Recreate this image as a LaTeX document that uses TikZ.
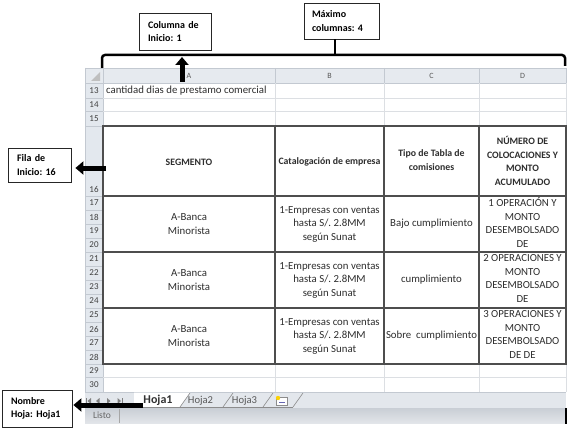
\documentclass[tikz,border=0pt]{standalone}
\usepackage{fontspec}
\setmainfont{Carlito}
\usetikzlibrary{arrows.meta}
\frenchspacing
\definecolor{hdrfill}{HTML}{E6EAEF}
\definecolor{rowfill}{HTML}{E3E8EE}
\definecolor{hdrline}{HTML}{C3C9D1}
\definecolor{gridc}{HTML}{DCDFE3}
\definecolor{tbl}{HTML}{4E4E4E}
\definecolor{txt}{HTML}{2E2E2E}
\definecolor{tabbar}{HTML}{E3E7EC}
\definecolor{stattop}{HTML}{C9CED5}
\definecolor{statbot}{HTML}{E2E5E9}
\tikzset{
  annot/.style={draw=black!85, line width=0.8pt, fill=white, align=left,
    font=\bfseries\fontsize{10}{13.5}\selectfont, inner ysep=0pt},
  bigarrow/.style={line width=5pt, black, -{Triangle[width=13pt,length=8pt]}},
  bracket/.style={line width=2.5pt, black, rounded corners=3pt},
  cell/.style={inner sep=0pt, align=center, text=txt, font=\fontsize{10.8}{13.5}\selectfont},
  hcell/.style={inner sep=0pt, align=center, text=txt, font=\bfseries\fontsize{9.8}{13.5}\selectfont},
  colletter/.style={inner sep=0pt, text=black!65, font=\fontsize{8}{9}\selectfont},
  rownum/.style={inner sep=0pt, text=black!75, font=\fontsize{9}{10}\selectfont},
  thickline/.style={draw=tbl, line width=1.4pt},
  thingrid/.style={draw=gridc, line width=0.7pt},
  hdrgrid/.style={draw=hdrline, line width=0.6pt},
  tabtext/.style={inner sep=0pt, text=black!65, font=\fontsize{10.6}{12}\selectfont},
  navbtn/.style={fill=black!50},
}
\begin{document}
\begin{tikzpicture}[x=1pt,y=-1pt]
\useasboundingbox (0,0) rectangle (573,428);
\fill[white] (0,0) rectangle (573,428);

% ---------- spreadsheet background ----------
\fill[hdrfill] (85,68) rectangle (566,83);
\fill[rowfill] (85,83) rectangle (103,392);
\fill[white] (103,83) rectangle (566,392);

% header grid
\foreach \xx in {85,103,275,384,479,566} \draw[hdrgrid] (\xx,68) -- (\xx,83);
\draw[hdrgrid] (85,68) -- (566,68);
\draw[hdrgrid] (85,83) -- (566,83);
% corner triangle
\fill[black!25] (91,81) -- (100,81) -- (100,72) -- cycle;

% row header separators
\foreach \yy in {98,111,126,196,210,224,238,252,266,280,294,308,322,336,350,364,377,392}
  \draw[hdrgrid] (85,\yy) -- (103,\yy);
\draw[hdrgrid] (85,68) -- (85,423);
\draw[hdrgrid] (103,83) -- (103,392);

% light gridlines
\foreach \yy in {98,111,377}
  \draw[thingrid] (103,\yy) -- (566,\yy);
\foreach \xx in {275,384,479,566} {
  \draw[thingrid] (\xx,83) -- (\xx,126);
  \draw[thingrid] (\xx,364) -- (\xx,392);
}

% thick table
\draw[thickline] (103,126) rectangle (566,364);
\foreach \yy in {196,252,308} \draw[thickline] (103,\yy) -- (566,\yy);
\foreach \xx in {275,384,479} \draw[thickline] (\xx,126) -- (\xx,364);

% column letters
\node[colletter] (colA) at (189,75.5) {A};
\node[colletter] (colB) at (329.5,75.5) {B};
\node[colletter] (colC) at (431.5,75.5) {C};
\node[colletter] (colD) at (522.5,75.5) {D};

% row numbers
\foreach \n/\yy in {13/90.5,14/104.5,15/118.5,16/189,17/203,18/217,19/231,20/245,
  21/259,22/273,23/287,24/301,25/315,26/329,27/343,28/357,29/370.5,30/384.5}
  \node[rownum] (r\n) at (94,\yy) {\n};

% ---------- cell texts ----------
\node[cell, anchor=west] (t13) at (106,90.5) {cantidad dias de prestamo comercial};

\node[hcell] (hA) at (189,162) {SEGMENTO};
\node[hcell] (hB) at (329.5,162) {Catalogación de empresa};
\node[hcell] (hC) at (431.5,160) {Tipo de Tabla de\\comisiones};
\node[hcell] (hD) at (522.5,161) {NÚMERO DE\\COLOCACIONES Y\\MONTO\\ACUMULADO};

\node[cell] (a1) at (189,224) {A-Banca\\Minorista};
\node[cell] (b1) at (329.5,224) {1-Empresas con ventas\\hasta S/. 2.8MM\\según Sunat};
\node[cell] (c1) at (431.5,224) {Bajo cumplimiento};
\node[cell] (d1) at (522.5,222.5) {1 OPERACIÓN Y\\MONTO\\DESEMBOLSADO\\DE};

\node[cell] (a2) at (189,280) {A-Banca\\Minorista};
\node[cell] (b2) at (329.5,280) {1-Empresas con ventas\\hasta S/. 2.8MM\\según Sunat};
\node[cell] (c2) at (431.5,280) {cumplimiento};
\node[cell] (d2) at (522.5,278.5) {2 OPERACIONES Y\\MONTO\\DESEMBOLSADO\\DE};

\node[cell] (a3) at (189,336) {A-Banca\\Minorista};
\node[cell] (b3) at (329.5,336) {1-Empresas con ventas\\hasta S/. 2.8MM\\según Sunat};
\node[cell] (c3) at (431.5,336) {Sobre\hspace{0.45em}cumplimiento};
\node[cell] (d3) at (522.5,334.5) {3 OPERACIONES Y\\MONTO\\DESEMBOLSADO\\DE DE};

% ---------- sheet tab bar ----------
\fill[tabbar] (85,392) rectangle (566,408);
\draw[hdrgrid] (85,392) -- (566,392);
\fill[white] (134,392.5) -- (190,392.5) -- (180,407) -- (134,407) -- cycle;
\draw[black!45, line width=0.6pt] (134,407) -- (293,407);
\foreach \xx in {180,223,263,293}
  \draw[black!45, line width=0.6pt] (\xx,407) -- (\xx+10,393);
% navigation buttons
\fill[navbtn] (86,397.5) rectangle (87,404.5);
\fill[navbtn] (87.5,401) -- (91,398) -- (91,404) -- cycle;
\fill[navbtn] (96,401) -- (99.5,398) -- (99.5,404) -- cycle;
\fill[navbtn] (110.5,401) -- (107,398) -- (107,404) -- cycle;
\fill[navbtn] (121,401) -- (117.5,398) -- (117.5,404) -- cycle;
\fill[navbtn] (122,397.5) rectangle (123,404.5);
\node[tabtext, text=black!80, font=\bfseries\fontsize{12}{13}\selectfont] (tab1) at (158,400.5) {Hoja1};
\node[tabtext] (tab2) at (200.5,400.5) {Hoja2};
\node[tabtext] (tab3) at (244.5,400.5) {Hoja3};
% insert-sheet icon
\draw[black!45, fill=white, line width=0.6pt] (276,397) rectangle (287,405);
\fill[yellow!70!orange] (278,398) circle (2.2);
\draw[blue!50!black!60, line width=0.6pt] (279,402) -- (285,402);

% ---------- status bar ----------
\shade[top color=stattop, bottom color=statbot] (85,408) rectangle (566,423);
\node[tabtext, font=\fontsize{9.5}{11}\selectfont, text=black!60] (listo) at (102,415.5) {Listo};
\draw[black!35, line width=0.6pt] (119.5,409) -- (119.5,423);
\draw[black, line width=1.5pt] (566,408) -- (566,424);

% ---------- annotations ----------
\node[annot, minimum width=72pt, minimum height=37pt, text width=54pt] (colbox) at (175,31.5) {Columna de\\Inicio: 1};
\node[annot, minimum width=75pt, minimum height=36pt, text width=59pt] (maxbox) at (341.5,21) {Máximo\\columnas: 4};
\node[annot, minimum width=63pt, minimum height=34pt, text width=45pt] (filabox) at (39.5,165) {Fila de\\Inicio: 16};
\node[annot, minimum width=70pt, minimum height=37pt, text width=52pt] (hojabox) at (37,408.5) {Nombre\\Hoja: Hoja1};

% bracket over columns
\coordinate (brL) at (102,68);
\coordinate (brR) at (565,66);
\coordinate (bracemid) at (335,55);
\draw[bracket] (brL) -- (102,55) -- (565,55) -- (brR);
\draw[line width=2.5pt] (bracemid) -- (bracemid |- maxbox.south);

% arrows
\coordinate (upTail) at (182,82);
\coordinate (upTip) at (182,57);
\draw[bigarrow] (upTail) -- (upTip);
\coordinate (filaTail) at (106,168);
\draw[bigarrow] (filaTail) -- ([xshift=4pt]filabox.east |- filaTail);
\coordinate (hojaTail) at (143,405);
\draw[bigarrow] (hojaTail) -- ([xshift=1pt]hojabox.east |- hojaTail);
\end{tikzpicture}
\end{document}
